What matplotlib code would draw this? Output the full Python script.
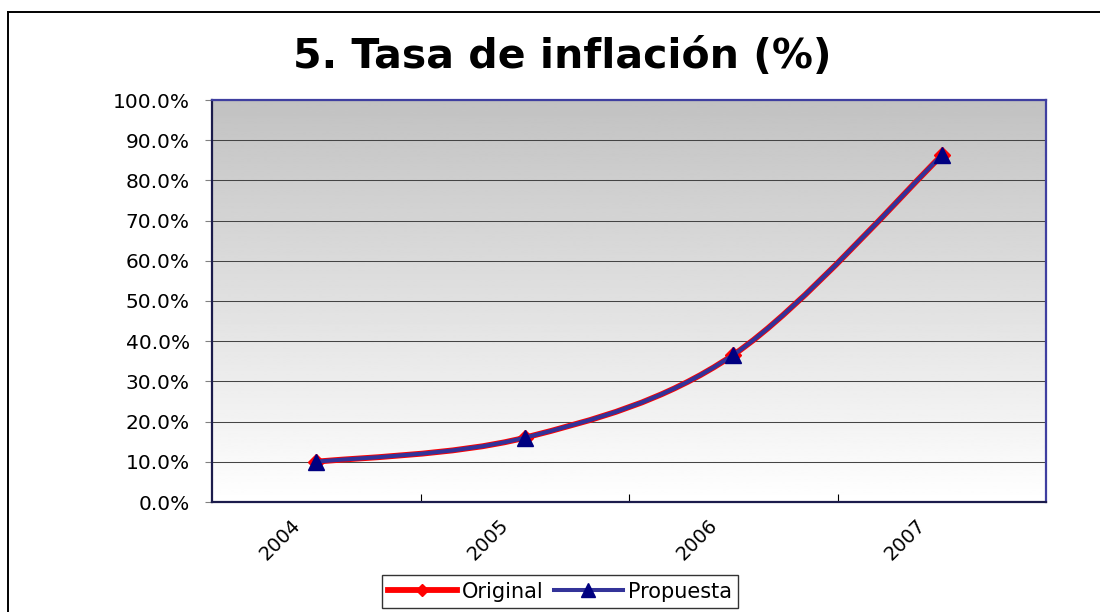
#!/usr/bin/env python3
"""Tasa de inflación: Original vs Propuesta, Excel-style smoothed lines."""
import matplotlib
matplotlib.use("Agg")
import matplotlib.pyplot as plt
import matplotlib.transforms as mtransforms
import numpy as np
from matplotlib.lines import Line2D
from matplotlib.patches import PathPatch
from matplotlib.path import Path
from matplotlib.ticker import PercentFormatter, FixedLocator

plt.rcParams.update({
    "font.family": "DejaVu Sans",
    "font.size": 14,
})

# data
years = ["2004", "2005", "2006", "2007"]
original = [0.100, 0.160, 0.366, 0.862]
propuesta = [0.100, 0.160, 0.366, 0.862]

TITLE = "5. Tasa de inflación (%)"
W, H, DPI = 1100, 612, 100


def smooth_path(xs, ys):
    # Excel-like smoothed line: cubic Bezier segments, tension 1/6
    pts = list(zip(xs, ys))
    n = len(pts)
    verts = [pts[0]]
    codes = [Path.MOVETO]
    for i in range(n - 1):
        p0 = pts[max(i - 1, 0)]
        p1 = pts[i]
        p2 = pts[i + 1]
        p3 = pts[min(i + 2, n - 1)]
        c1 = (p1[0] + (p2[0] - p0[0]) / 6, p1[1] + (p2[1] - p0[1]) / 6)
        c2 = (p2[0] - (p3[0] - p1[0]) / 6, p2[1] - (p3[1] - p1[1]) / 6)
        verts += [c1, c2, p2]
        codes += [Path.CURVE4] * 3
    return Path(verts, codes)


def main() -> None:
    fig = plt.figure(figsize=(W / DPI, H / DPI), dpi=DPI)
    fig.patch.set_facecolor("white")

    # outer chart border (runs off the right and bottom edge)
    fig.add_artist(Line2D([7.5 / W, 1.0], [1 - 11.5 / H] * 2, transform=fig.transFigure,
                          color="black", lw=1.4))
    fig.add_artist(Line2D([7.5 / W] * 2, [1 - 11.5 / H, 0.0], transform=fig.transFigure,
                          color="black", lw=1.4))

    ax = fig.add_axes([212 / W, 1 - 502 / H, (1046 - 212) / W, (502 - 100) / H])
    x = np.arange(1, len(years) + 1)

    # grey (top) to white (bottom) gradient plot area
    grad = np.linspace(0.76, 1.0, 256).reshape(-1, 1)
    ax.imshow(grad, cmap="gray", vmin=0, vmax=1, extent=[0, 1, 0, 1], origin="upper",
              transform=ax.transAxes, aspect="auto", zorder=0, interpolation="bilinear")

    ax.set_xlim(0.5, len(years) + 0.5)
    ax.set_ylim(0, 1.0)

    ax.yaxis.set_major_locator(FixedLocator(np.arange(0, 1.01, 0.1)))
    ax.yaxis.set_major_formatter(PercentFormatter(xmax=1, decimals=1))
    ax.grid(axis="y", color="#444444", lw=0.75, zorder=1)
    ax.tick_params(axis="y", direction="out", length=5, width=0.8, color="#808080",
                   pad=11, labelsize=14.5)

    ax.set_xticks(np.arange(1.5, len(years), 1.0))
    ax.set_xticklabels([])
    ax.tick_params(axis="x", direction="in", length=6, width=0.8, color="black")

    off = mtransforms.offset_copy(ax.get_xaxis_transform(), fig=fig, x=-19, y=-20, units="dots")
    for xi, lab in zip(x, years):
        ax.text(xi, 0, lab, transform=off, rotation=45, rotation_mode="anchor",
                ha="right", va="center", fontsize=14)

    for side in ("left", "bottom"):
        ax.spines[side].set_color("#1c1c4c")
        ax.spines[side].set_linewidth(1.6)
    for side in ("top", "right"):
        ax.spines[side].set_color("#3f3fa0")
        ax.spines[side].set_linewidth(1.6)

    # Original: red, diamonds; Propuesta: blue on top, navy triangles
    ax.add_patch(PathPatch(smooth_path(x, original), fill=False, edgecolor="#ff0000",
                           lw=4.2, zorder=3, capstyle="round", joinstyle="round"))
    ax.plot(x, original, ls="none", marker="D", ms=8, color="#ff0000", zorder=4)
    ax.add_patch(PathPatch(smooth_path(x, propuesta), fill=False, edgecolor="#333399",
                           lw=2.9, zorder=5, capstyle="round", joinstyle="round"))
    ax.plot(x, propuesta, ls="none", marker="^", ms=11, color="#000080", zorder=6)

    fig.text(562 / W, 1 - 57 / H, TITLE, ha="center", va="center",
             fontsize=29.5, fontweight="bold")

    handles = [
        Line2D([], [], color="#ff0000", lw=4.2, marker="D", ms=6.5),
        Line2D([], [], color="#333399", lw=2.9, marker="^", ms=10, mfc="#000080", mec="#000080"),
    ]
    leg = fig.legend(handles, ["Original", "Propuesta"], loc="center",
                     bbox_to_anchor=(560 / W, 1 - 591.5 / H), ncol=2, fontsize=15,
                     frameon=True, fancybox=False, shadow=False, handlelength=3.3,
                     handletextpad=0.25, columnspacing=0.5, borderpad=0.3,
                     borderaxespad=0)
    leg.get_frame().set_edgecolor("black")
    leg.get_frame().set_linewidth(1.0)

    fig.savefig("out.png", dpi=DPI)
    plt.close(fig)


if __name__ == "__main__":
    main()
